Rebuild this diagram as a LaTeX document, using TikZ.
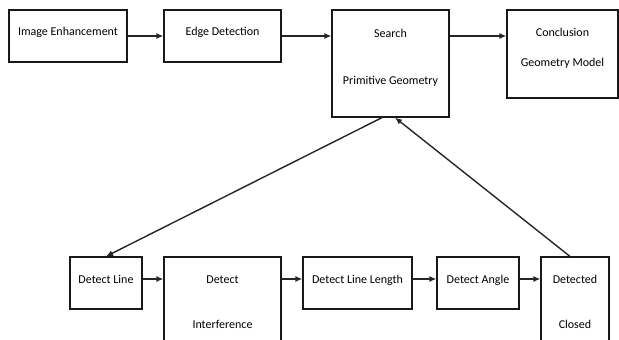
\documentclass[tikz,border=0pt]{standalone}
\usepackage{fontspec}
\setmainfont{Carlito}
\usetikzlibrary{arrows.meta, calc}

\begin{document}
\begin{tikzpicture}[x=1pt, y=-1pt,
    box/.style={draw=black!90, line width=1.2pt, inner sep=0pt, align=center,
      font=\fontsize{12}{14}\selectfont},
    link/.style={draw=black!85, line width=1.4pt, -{Latex[length=7pt,width=6pt]}}]
  \useasboundingbox (0,0) rectangle (619,340);
  \clip (0,0) rectangle (619,340);
  % Top row
  \node[box, minimum width=118, minimum height=52, text depth=9pt] (enhance) at (68,36) {Image Enhancement};
  \node[box, minimum width=117, minimum height=52, text depth=9pt] (edge) at (222.5,36) {Edge Detection};
  \node[box, minimum width=117, minimum height=107] (search) at (390.5,63.5) {Search\\[33pt]Primitive Geometry\\[0pt]};
  \node[box, minimum width=111, minimum height=88] (conclusion) at (562.5,54) {Conclusion\\[16pt]Geometry Model\\[0pt]};
  % Bottom row
  \node[box, minimum width=72, minimum height=52, text depth=7pt] (detectline) at (106,283) {Detect Line};
  \node[box, minimum width=117, minimum height=90] (interference) at (222.5,302) {Detect\\[31pt]Interference};
  \node[box, minimum width=109, minimum height=52, text depth=7pt] (length) at (357.5,283) {Detect Line Length};
  \node[box, minimum width=82, minimum height=52, text depth=7pt] (angle) at (478,283) {Detect Angle};
  \node[box, minimum width=68, minimum height=90] (closed) at (575,302) {Detected\\[31pt]Closed};
  % Connectors
  \draw[link] (enhance.east) -- (edge.west);
  \draw[link] (edge.east) -- (edge.east -| search.west);
  \draw[link] (search.east |- edge.east) -- (conclusion.west |- edge.east);
  \draw[link] ([xshift=-8.5pt]search.south) -- (detectline.north);
  \draw[link] ([xshift=-5pt]closed.north) -- ([xshift=4.5pt]search.south);
  \draw[link] ([yshift=4pt]detectline.east) -- ([yshift=4pt]detectline.east -| interference.west);
  \draw[link] ([yshift=4pt]length.west -| interference.east) -- ([yshift=4pt]length.west);
  \draw[link] ([yshift=4pt]length.east) -- ([yshift=4pt]angle.west);
  \draw[link] ([yshift=4pt]angle.east) -- ([yshift=4pt]angle.east -| closed.west);
\end{tikzpicture}
\end{document}
